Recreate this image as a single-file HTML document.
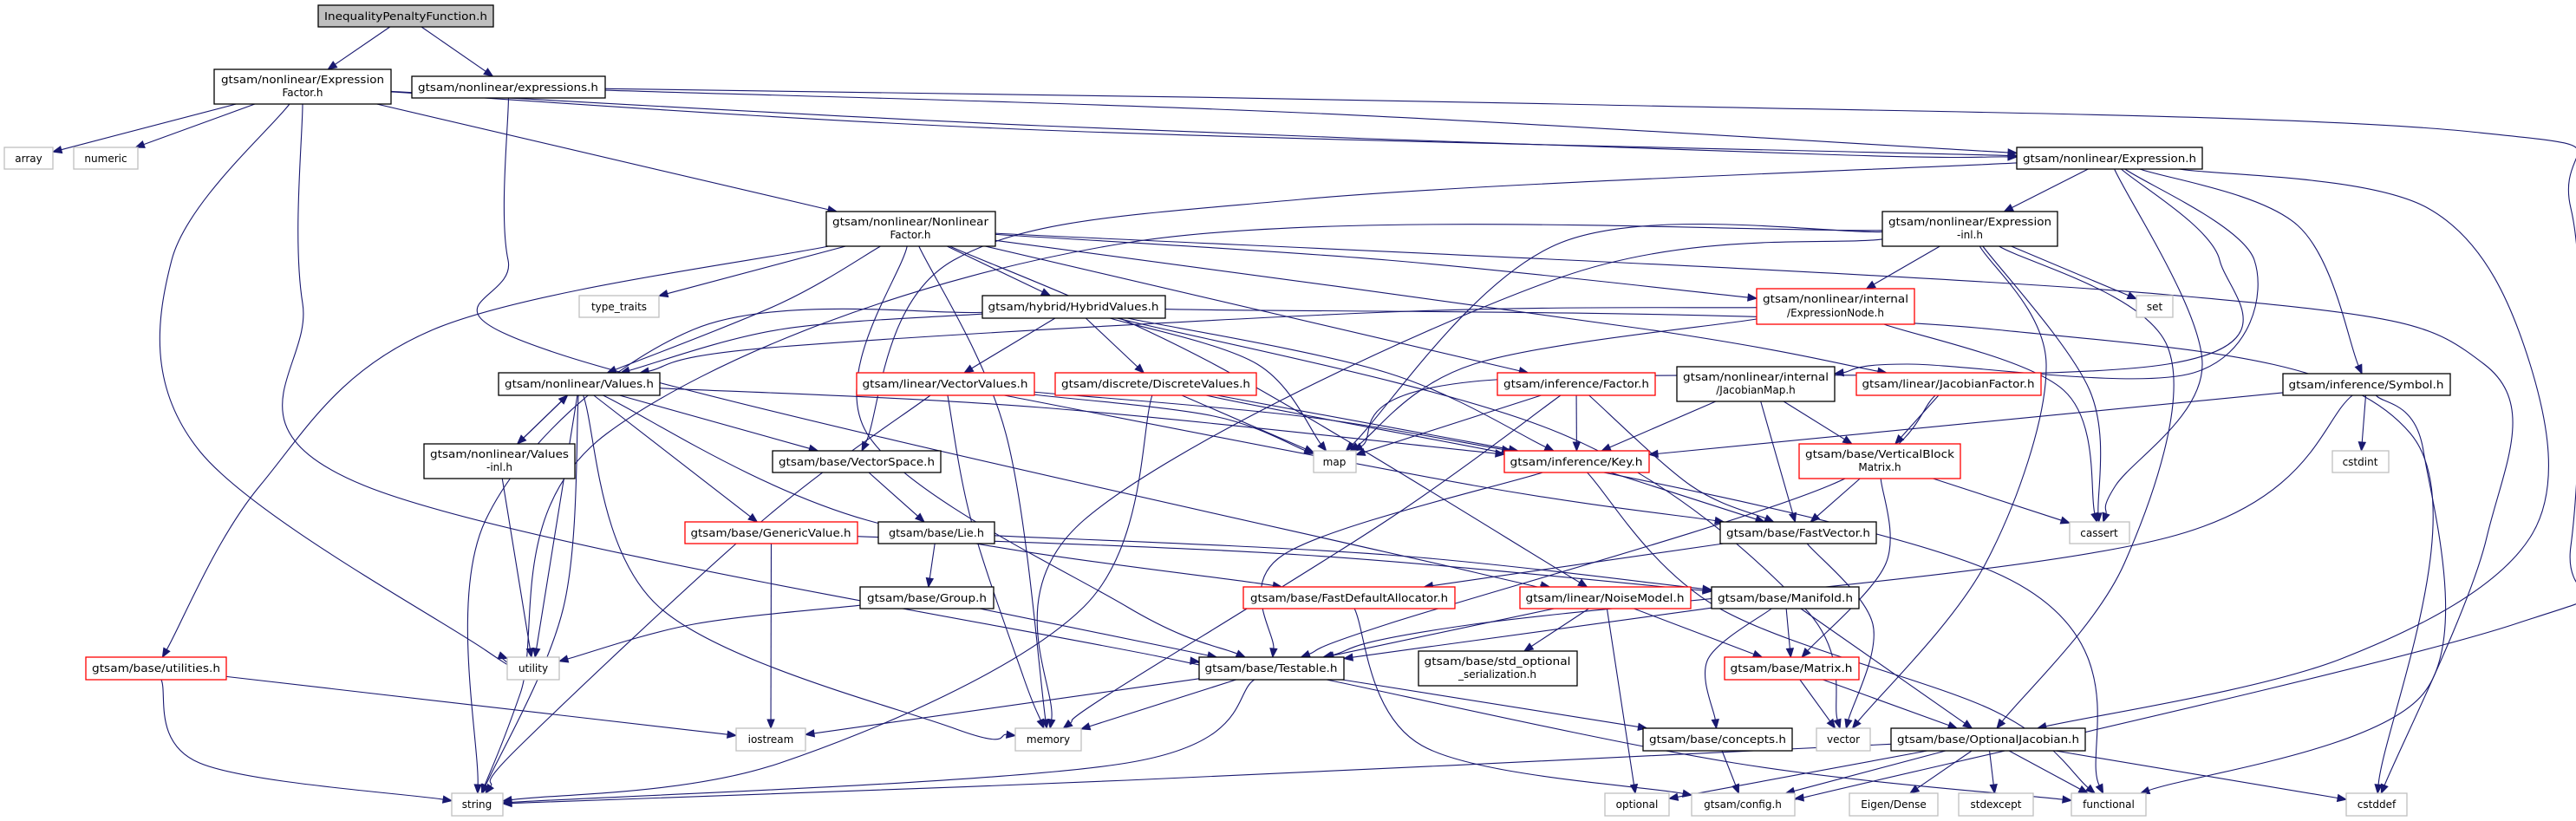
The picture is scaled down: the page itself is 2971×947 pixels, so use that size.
<!DOCTYPE html>
<html><head><meta charset="utf-8">
<style>
html,body{margin:0;padding:0;background:#fff;}
svg{display:block;}
text{font-family:"DejaVu Sans","Liberation Sans",sans-serif;font-size:12px;fill:#000;}
</style></head>
<body>
<svg id="g" width="2971" height="947" viewBox="0 0 2971 947" xmlns="http://www.w3.org/2000/svg">
<g id="edges" fill="none" stroke="#191970" stroke-width="1.1"></g>
<g id="heads" fill="#191970" stroke="#191970"></g>
<g id="nodes" stroke-width="1.3">
<rect x="367" y="6" width="202" height="25" fill="#bfbfbf" stroke="#000"/><text x="468" y="23" text-anchor="middle" textLength="188" lengthAdjust="spacingAndGlyphs">InequalityPenaltyFunction.h</text>
<rect x="247" y="80" width="204" height="40" fill="#fff" stroke="#000"/><text x="349" y="96" text-anchor="middle" textLength="188" lengthAdjust="spacingAndGlyphs">gtsam/nonlinear/Expression</text><text x="349" y="111" text-anchor="middle">Factor.h</text>
<rect x="475" y="88" width="223" height="25" fill="#fff" stroke="#000"/><text x="586" y="105" text-anchor="middle" textLength="208" lengthAdjust="spacingAndGlyphs">gtsam/nonlinear/expressions.h</text>
<rect x="5" y="170" width="56" height="25" fill="#fff" stroke="#bfbfbf"/><text x="33" y="187" text-anchor="middle">array</text>
<rect x="85" y="170" width="74" height="25" fill="#fff" stroke="#bfbfbf"/><text x="122" y="187" text-anchor="middle">numeric</text>
<rect x="953" y="244" width="195" height="40" fill="#fff" stroke="#000"/><text x="1050" y="260" text-anchor="middle" textLength="180" lengthAdjust="spacingAndGlyphs">gtsam/nonlinear/Nonlinear</text><text x="1050" y="275" text-anchor="middle">Factor.h</text>
<rect x="668" y="341" width="92" height="25" fill="#fff" stroke="#bfbfbf"/><text x="714" y="358" text-anchor="middle">type_traits</text>
<rect x="575" y="430" width="186" height="26" fill="#fff" stroke="#000"/><text x="668" y="447" text-anchor="middle" textLength="172" lengthAdjust="spacingAndGlyphs">gtsam/nonlinear/Values.h</text>
<rect x="489" y="512" width="174" height="40" fill="#fff" stroke="#000"/><text x="576" y="528" text-anchor="middle" textLength="160" lengthAdjust="spacingAndGlyphs">gtsam/nonlinear/Values</text><text x="576" y="543" text-anchor="middle">-inl.h</text>
<rect x="891" y="520" width="194" height="25" fill="#fff" stroke="#000"/><text x="988" y="537" text-anchor="middle" textLength="180" lengthAdjust="spacingAndGlyphs">gtsam/base/VectorSpace.h</text>
<rect x="790" y="602" width="199" height="25" fill="#fff" stroke="#ff0000"/><text x="889" y="619" text-anchor="middle" textLength="185" lengthAdjust="spacingAndGlyphs">gtsam/base/GenericValue.h</text>
<rect x="99" y="758" width="162" height="26" fill="#fff" stroke="#ff0000"/><text x="180" y="775" text-anchor="middle" textLength="148" lengthAdjust="spacingAndGlyphs">gtsam/base/utilities.h</text>
<rect x="585" y="758" width="60" height="26" fill="#fff" stroke="#bfbfbf"/><text x="615" y="775" text-anchor="middle">utility</text>
<rect x="849" y="840" width="80" height="26" fill="#fff" stroke="#bfbfbf"/><text x="889" y="857" text-anchor="middle">iostream</text>
<rect x="521" y="915" width="59" height="26" fill="#fff" stroke="#bfbfbf"/><text x="550" y="932" text-anchor="middle">string</text>
<rect x="1133" y="341" width="211" height="26" fill="#fff" stroke="#000"/><text x="1238" y="358" text-anchor="middle" textLength="197" lengthAdjust="spacingAndGlyphs">gtsam/hybrid/HybridValues.h</text>
<rect x="988" y="430" width="205" height="26" fill="#fff" stroke="#ff0000"/><text x="1090" y="447" text-anchor="middle" textLength="191" lengthAdjust="spacingAndGlyphs">gtsam/linear/VectorValues.h</text>
<rect x="1217" y="430" width="232" height="26" fill="#fff" stroke="#ff0000"/><text x="1333" y="447" text-anchor="middle" textLength="218" lengthAdjust="spacingAndGlyphs">gtsam/discrete/DiscreteValues.h</text>
<rect x="1727" y="430" width="182" height="26" fill="#fff" stroke="#ff0000"/><text x="1818" y="447" text-anchor="middle" textLength="168" lengthAdjust="spacingAndGlyphs">gtsam/inference/Factor.h</text>
<rect x="1934" y="423" width="182" height="40" fill="#fff" stroke="#000"/><text x="2025" y="439" text-anchor="middle" textLength="168" lengthAdjust="spacingAndGlyphs">gtsam/nonlinear/internal</text><text x="2025" y="454" text-anchor="middle">/JacobianMap.h</text>
<rect x="1515" y="520" width="49" height="25" fill="#fff" stroke="#bfbfbf"/><text x="1539" y="537" text-anchor="middle">map</text>
<rect x="1735" y="520" width="167" height="25" fill="#fff" stroke="#ff0000"/><text x="1818" y="537" text-anchor="middle" textLength="153" lengthAdjust="spacingAndGlyphs">gtsam/inference/Key.h</text>
<rect x="1013" y="602" width="134" height="25" fill="#fff" stroke="#000"/><text x="1080" y="619" text-anchor="middle" textLength="110" lengthAdjust="spacingAndGlyphs">gtsam/base/Lie.h</text>
<rect x="992" y="677" width="154" height="25" fill="#fff" stroke="#000"/><text x="1069" y="694" text-anchor="middle" textLength="138" lengthAdjust="spacingAndGlyphs">gtsam/base/Group.h</text>
<rect x="1434" y="677" width="244" height="25" fill="#fff" stroke="#ff0000"/><text x="1556" y="694" text-anchor="middle" textLength="228" lengthAdjust="spacingAndGlyphs">gtsam/base/FastDefaultAllocator.h</text>
<rect x="1753" y="677" width="197" height="25" fill="#fff" stroke="#ff0000"/><text x="1851" y="694" text-anchor="middle" textLength="183" lengthAdjust="spacingAndGlyphs">gtsam/linear/NoiseModel.h</text>
<rect x="1974" y="677" width="170" height="25" fill="#fff" stroke="#000"/><text x="2059" y="694" text-anchor="middle" textLength="156" lengthAdjust="spacingAndGlyphs">gtsam/base/Manifold.h</text>
<rect x="1383" y="758" width="167" height="26" fill="#fff" stroke="#000"/><text x="1466" y="775" text-anchor="middle" textLength="153" lengthAdjust="spacingAndGlyphs">gtsam/base/Testable.h</text>
<rect x="1636" y="751" width="183" height="40" fill="#fff" stroke="#000"/><text x="1727" y="767" text-anchor="middle" textLength="169" lengthAdjust="spacingAndGlyphs">gtsam/base/std_optional</text><text x="1727" y="782" text-anchor="middle">_serialization.h</text>
<rect x="1171" y="840" width="76" height="26" fill="#fff" stroke="#bfbfbf"/><text x="1209" y="857" text-anchor="middle">memory</text>
<rect x="1895" y="840" width="172" height="26" fill="#fff" stroke="#000"/><text x="1981" y="857" text-anchor="middle" textLength="158" lengthAdjust="spacingAndGlyphs">gtsam/base/concepts.h</text>
<rect x="1851" y="915" width="74" height="26" fill="#fff" stroke="#bfbfbf"/><text x="1888" y="932" text-anchor="middle">optional</text>
<rect x="1951" y="915" width="119" height="26" fill="#fff" stroke="#bfbfbf"/><text x="2010" y="932" text-anchor="middle">gtsam/config.h</text>
<rect x="2326" y="170" width="214" height="25" fill="#fff" stroke="#000"/><text x="2433" y="187" text-anchor="middle" textLength="200" lengthAdjust="spacingAndGlyphs">gtsam/nonlinear/Expression.h</text>
<rect x="2171" y="244" width="202" height="40" fill="#fff" stroke="#000"/><text x="2272" y="260" text-anchor="middle" textLength="188" lengthAdjust="spacingAndGlyphs">gtsam/nonlinear/Expression</text><text x="2272" y="275" text-anchor="middle">-inl.h</text>
<rect x="2026" y="333" width="182" height="41" fill="#fff" stroke="#ff0000"/><text x="2117" y="349" text-anchor="middle" textLength="168" lengthAdjust="spacingAndGlyphs">gtsam/nonlinear/internal</text><text x="2117" y="365" text-anchor="middle">/ExpressionNode.h</text>
<rect x="2464" y="341" width="42" height="25" fill="#fff" stroke="#bfbfbf"/><text x="2485" y="358" text-anchor="middle">set</text>
<rect x="2141" y="430" width="213" height="26" fill="#fff" stroke="#ff0000"/><text x="2247" y="447" text-anchor="middle" textLength="199" lengthAdjust="spacingAndGlyphs">gtsam/linear/JacobianFactor.h</text>
<rect x="2633" y="431" width="193" height="25" fill="#fff" stroke="#000"/><text x="2729" y="448" text-anchor="middle" textLength="179" lengthAdjust="spacingAndGlyphs">gtsam/inference/Symbol.h</text>
<rect x="2075" y="512" width="186" height="40" fill="#fff" stroke="#ff0000"/><text x="2168" y="528" text-anchor="middle" textLength="172" lengthAdjust="spacingAndGlyphs">gtsam/base/VerticalBlock</text><text x="2168" y="543" text-anchor="middle">Matrix.h</text>
<rect x="2690" y="520" width="65" height="25" fill="#fff" stroke="#bfbfbf"/><text x="2722" y="537" text-anchor="middle">cstdint</text>
<rect x="1984" y="602" width="180" height="25" fill="#fff" stroke="#000"/><text x="2074" y="619" text-anchor="middle" textLength="166" lengthAdjust="spacingAndGlyphs">gtsam/base/FastVector.h</text>
<rect x="2387" y="602" width="69" height="25" fill="#fff" stroke="#bfbfbf"/><text x="2421" y="619" text-anchor="middle">cassert</text>
<rect x="1989" y="758" width="155" height="26" fill="#fff" stroke="#ff0000"/><text x="2066" y="775" text-anchor="middle" textLength="141" lengthAdjust="spacingAndGlyphs">gtsam/base/Matrix.h</text>
<rect x="2095" y="840" width="62" height="26" fill="#fff" stroke="#bfbfbf"/><text x="2126" y="857" text-anchor="middle">vector</text>
<rect x="2181" y="840" width="224" height="26" fill="#fff" stroke="#000"/><text x="2293" y="857" text-anchor="middle" textLength="210" lengthAdjust="spacingAndGlyphs">gtsam/base/OptionalJacobian.h</text>
<rect x="2133" y="915" width="102" height="26" fill="#fff" stroke="#bfbfbf"/><text x="2184" y="932" text-anchor="middle">Eigen/Dense</text>
<rect x="2259" y="915" width="86" height="26" fill="#fff" stroke="#bfbfbf"/><text x="2302" y="932" text-anchor="middle">stdexcept</text>
<rect x="2389" y="915" width="86" height="26" fill="#fff" stroke="#bfbfbf"/><text x="2432" y="932" text-anchor="middle">functional</text>
<rect x="2706" y="915" width="70" height="26" fill="#fff" stroke="#bfbfbf"/><text x="2741" y="932" text-anchor="middle">cstddef</text>
</g>
</svg>
<script>
(function(){
var N={ineq:[367,6,202,25],ef:[247,80,204,40],ex:[475,88,223,25],arr:[5,170,56,25],num:[85,170,74,25],nf:[953,244,195,40],tt:[668,341,92,25],val:[575,430,186,26],vinl:[489,512,174,40],vs:[891,520,194,25],gv:[790,602,199,25],util:[99,758,162,26],uty:[585,758,60,26],ios:[849,840,80,26],str:[521,915,59,26],hv:[1133,341,211,26],vv:[988,430,205,26],dv:[1217,430,232,26],fac:[1727,430,182,26],jm:[1934,423,182,40],map:[1515,520,49,25],key:[1735,520,167,25],lie:[1013,602,134,25],grp:[992,677,154,25],fda:[1434,677,244,25],nm:[1753,677,197,25],man:[1974,677,170,25],tst:[1383,758,167,26],sos:[1636,751,183,40],mem:[1171,840,76,26],con:[1895,840,172,26],opt:[1851,915,74,26],cfg:[1951,915,119,26],expr:[2326,170,214,25],einl:[2171,244,202,40],en:[2026,333,182,41],set:[2464,341,42,25],jf:[2141,430,213,26],sym:[2633,431,193,25],vbm:[2075,512,186,40],cint:[2690,520,65,25],fv:[1984,602,180,25],cas:[2387,602,69,25],mat:[1989,758,155,26],vec:[2095,840,62,26],oj:[2181,840,224,26],eig:[2133,915,102,26],sexc:[2259,915,86,26],fun:[2389,915,86,26],csd:[2706,915,70,26]};
var E=[
['ineq','ef'],['ineq','ex'],
['ef','arr'],['ef','num'],['ef','uty',[198,300],[230,520],[560,750]],['ef','tst',[349,350],[420,560],[1350,760]],['ef','nf'],['ef','expr',[1200,150]],['ef','expr',[1200,145],[2100,178]],
['ex','expr',[1500,130]],['ex','nm',[586,300],[650,410],[1700,660]],['ex','cfg',[1800,120],[2850,152],[2965,240],[2965,630],[2900,720],[2080,920]],
['nf','val',[900,350]],['nf','tt'],['nf','util',[500,380],[300,560]],['nf','hv'],['nf','fac'],['nf','jf',[1900,380]],['nf','csd',[2500,340],[2865,420],[2868,620]],['nf','nm',[1400,420]],['nf','mem',[1160,500]],['nf','tst',[1000,500],[1300,700]],['nf','en',[1600,300]],
['expr','einl'],['expr','cas',[2540,420],[2440,560]],['expr','map',[2560,300],[2500,420],[1700,440]],['expr','jm',[2600,300],[2530,430],[2200,420]],['expr','sym',[2650,260]],['expr','oj',[2800,240],[2918,420],[2918,620],[2700,760]],['expr','vs',[1500,230],[1100,300]],
['einl','en'],['einl','set'],['einl','vec',[2360,420],[2290,650]],['einl','oj',[2500,400],[2450,650]],['einl','cas',[2410,450]],['einl','map',[1800,280]],['einl','str',[1300,280],[700,500],[600,800]],['einl','mem',[1800,320],[1250,600]],
['en','val',[1600,360],[900,400]],['en','map',[1700,420]],['en','cas',[2380,450]],
['hv','val',[900,380]],['hv','vv'],['hv','dv'],['hv','map',[1450,420]],['hv','key',[1600,430]],['hv','str',[800,380],[560,600]],['hv','vec',[1800,500],[2080,700]],['hv','csd',[2300,380],[2780,500]],
['vv','map',[1400,480]],['vv','key',[1500,480]],['vv','mem',[1120,600],[1180,780]],['vv','fv',[1700,560]],['vv','str',[880,600],[600,860]],
['dv','map'],['dv','key'],['dv','str',[1250,700],[900,880]],['dv','fun',[2300,660]],
['fac','key'],['fac','fv',[1950,560]],['fac','mem',[1600,600],[1280,800]],['fac','map'],
['jm','key'],['jm','fv'],['jm','vbm'],
['jf','vbm'],['jf','tst',[2110,560],[1600,720]],
['val','vinl'],['vinl','val'],['val','vs'],['val','gv'],['val','uty'],['val','str',[650,700]],['val','mem',[760,700],[1100,840]],['val','key',[1200,470]],['val','fda',[1000,600]],
['vinl','uty'],['vs','lie'],['gv','ios'],['gv','man',[1500,640]],['lie','grp'],['lie','man',[1600,640]],
['grp','tst'],['grp','uty',[800,720]],['util','str',[230,880]],['util','ios'],
['key','tst',[1480,640]],['key','fv'],['key','fun',[1980,700],[2300,820]],
['fda','cfg',[1640,860]],['fv','fda'],['fv','vec',[2160,720]],
['vbm','fv'],['vbm','mat',[2175,650]],['vbm','cas'],
['nm','tst'],['nm','sos'],['nm','opt'],['nm','mat'],
['man','tst'],['man','mat'],['man','oj'],['man','con',[1970,760]],
['mat','vec'],['mat','oj'],
['tst','ios'],['tst','mem'],['tst','str',[1300,880]],['tst','con'],['tst','fun',[2000,880]],
['con','cfg'],
['oj','str',[1300,900]],['oj','opt'],['oj','cfg'],['oj','eig'],['oj','sexc'],['oj','fun'],['oj','csd'],
['sym','key'],['sym','cint'],['sym','fun',[2795,520],[2795,800]],['sym','tst',[2500,620],[1700,720]]
];
var ns='http://www.w3.org/2000/svg',eg=document.getElementById('edges'),hg=document.getElementById('heads');
function C(k){var b=N[k];return [b[0]+b[2]/2,b[1]+b[3]/2];}
function clip(k,p){var b=N[k],c=C(k),dx=p[0]-c[0],dy=p[1]-c[1],hw=b[2]/2,hh=b[3]/2;
 var t=Math.min(dx?hw/Math.abs(dx):1e9,dy?hh/Math.abs(dy):1e9);if(t>1)t=1;return [c[0]+dx*t,c[1]+dy*t];}
E.forEach(function(e){
 var s=e[0],t=e[1],mid=e.slice(2);
 var cs=C(s),ct=C(t);
 var p0=clip(s,mid.length?mid[0]:ct);
 var pn=clip(t,mid.length?mid[mid.length-1]:cs);
 var last=mid.length?mid[mid.length-1]:p0;
 var dx=pn[0]-last[0],dy=pn[1]-last[1],L=Math.sqrt(dx*dx+dy*dy)||1;dx/=L;dy/=L;
 var tip=pn,base=[pn[0]-dx*10,pn[1]-dy*10];
 var pts=[p0].concat(mid,[base]);
 var d='M'+pts[0][0]+','+pts[0][1];
 if(pts.length==2){d+=' L'+pts[1][0]+','+pts[1][1];}
 else{for(var i=0;i<pts.length-1;i++){var a=pts[i-1]||pts[i],b=pts[i],c=pts[i+1],q=pts[i+2]||c;
  var c1=[b[0]+(c[0]-a[0])/6,b[1]+(c[1]-a[1])/6],c2=[c[0]-(q[0]-b[0])/6,c[1]-(q[1]-b[1])/6];
  d+=' C'+c1[0]+','+c1[1]+' '+c2[0]+','+c2[1]+' '+c[0]+','+c[1];}}
 var pa=document.createElementNS(ns,'path');pa.setAttribute('d',d);eg.appendChild(pa);
 var px=-dy,py=dx;
 var pg=document.createElementNS(ns,'polygon');
 pg.setAttribute('points',tip[0]+','+tip[1]+' '+(base[0]+px*4)+','+(base[1]+py*4)+' '+(base[0]-px*4)+','+(base[1]-py*4));
 hg.appendChild(pg);
});
})();
</script>
</body></html>
